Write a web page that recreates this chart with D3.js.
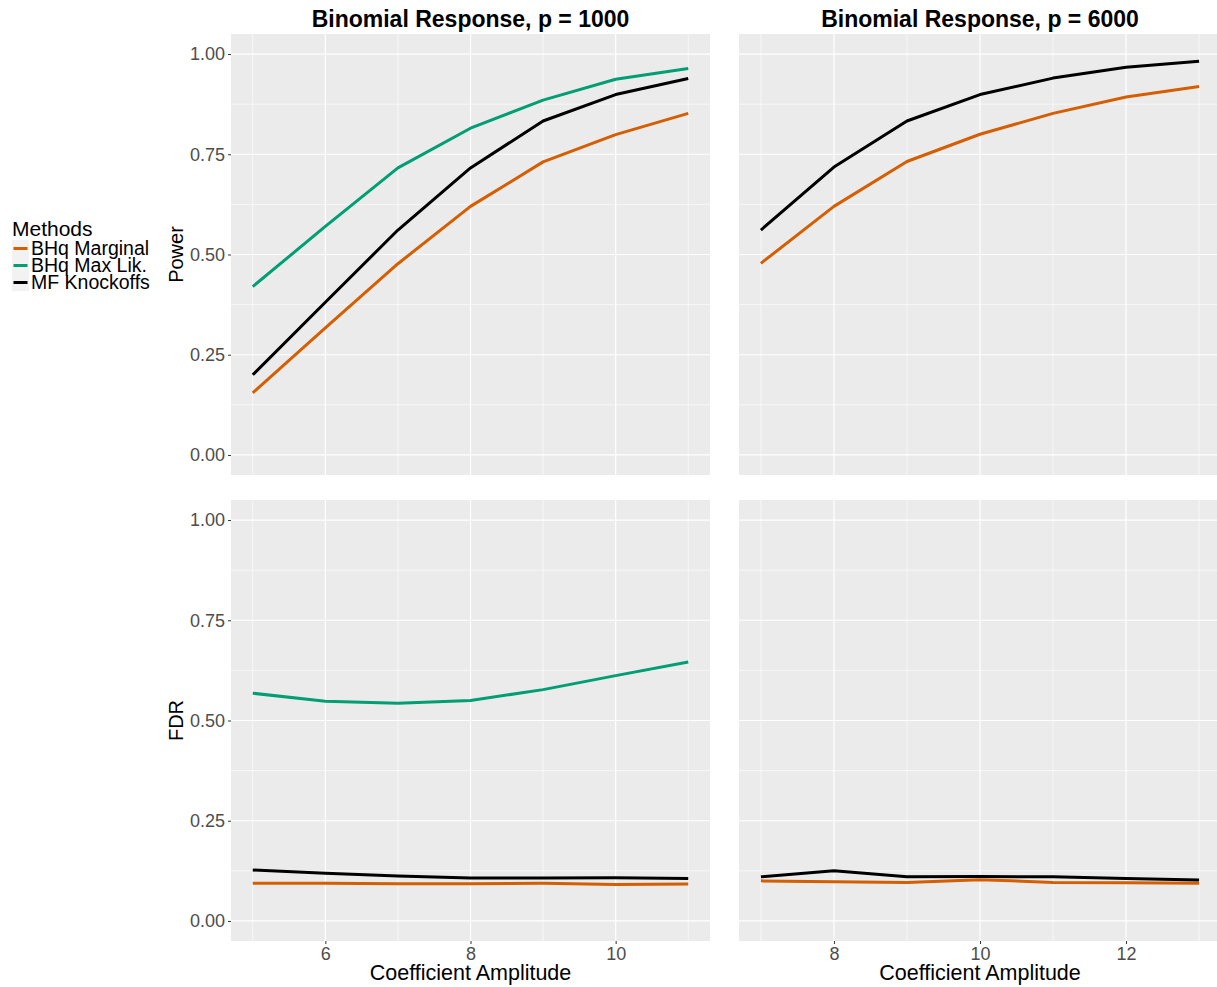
<!DOCTYPE html>
<html>
<head>
<meta charset="utf-8">
<script src="https://cdn.jsdelivr.net/npm/d3@7"></script>
<style>
  body { margin: 0; background: #fff; }
  svg { font-family: "Liberation Sans", Arial, sans-serif; }
</style>
</head>
<body>
<svg id="chart" width="1217" height="987"></svg>
<script>
// data
const methods = ["BHq Marginal", "BHq Max Lik.", "MF Knockoffs"];
const colors = ["#D55E00", "#009E73", "#000000"];
const titles = ["Binomial Response, p = 1000", "Binomial Response, p = 6000"];
const rowLabels = ["Power", "FDR"];

const ampSmall = [5, 6, 7, 8, 9, 10, 11];
const ampLarge = [7, 8, 9, 10, 11, 12, 13];

// p = 1000
const powerMarg1000 = [0.155, 0.317, 0.477, 0.620, 0.731, 0.799, 0.852];
const powerML1000   = [0.420, 0.570, 0.716, 0.815, 0.885, 0.937, 0.964];
const powerKO1000   = [0.200, 0.381, 0.561, 0.716, 0.833, 0.899, 0.939];
const fdrMarg1000 = [0.094, 0.094, 0.093, 0.093, 0.094, 0.091, 0.092];
const fdrML1000   = [0.568, 0.548, 0.543, 0.550, 0.577, 0.612, 0.646];
const fdrKO1000   = [0.127, 0.119, 0.112, 0.107, 0.107, 0.108, 0.106];

// p = 6000 (no Max Lik. run)
const powerMarg6000 = [0.478, 0.620, 0.732, 0.800, 0.852, 0.893, 0.919];
const powerKO6000   = [0.561, 0.718, 0.833, 0.899, 0.940, 0.967, 0.982];
const fdrMarg6000 = [0.100, 0.098, 0.096, 0.103, 0.096, 0.095, 0.094];
const fdrKO6000   = [0.110, 0.125, 0.110, 0.111, 0.110, 0.106, 0.102];

const xTicksSmall = [6, 8, 10];
const xTicksLarge = [8, 10, 12];
const yTicks = [0, 0.25, 0.5, 0.75, 1];

const panels = [
  {row: 0, col: 0, amp: ampSmall, ticks: xTicksSmall, series: [powerMarg1000, powerML1000, powerKO1000]},
  {row: 0, col: 1, amp: ampLarge, ticks: xTicksLarge, series: [powerMarg6000, null, powerKO6000]},
  {row: 1, col: 0, amp: ampSmall, ticks: xTicksSmall, series: [fdrMarg1000, fdrML1000, fdrKO1000]},
  {row: 1, col: 1, amp: ampLarge, ticks: xTicksLarge, series: [fdrMarg6000, null, fdrKO6000]}
];

const colX = [[231, 710], [739, 1221]];
const rowY = [[34, 475], [500, 941]];

const svg = d3.select("#chart");

panels.forEach(p => {
  const [x0, x1] = colX[p.col];
  const [y0, y1] = rowY[p.row];
  const lo = d3.min(p.amp), hi = d3.max(p.amp), pad = (hi - lo) * 0.05;
  const x = d3.scaleLinear().domain([lo - pad, hi + pad]).range([x0, x1]);
  const y = d3.scaleLinear().domain([-0.05, 1.05]).range([y1, y0]);

  const g = svg.append("g");
  g.append("rect")
    .attr("x", x0).attr("y", y0)
    .attr("width", x1 - x0).attr("height", y1 - y0)
    .attr("fill", "#EBEBEB");

  // minor grid
  const xMinor = p.ticks.map(t => t - 1).concat([p.ticks[p.ticks.length - 1] + 1]);
  const yMinor = [0.125, 0.375, 0.625, 0.875];
  g.selectAll(".xminor").data(xMinor).enter().append("line")
    .attr("x1", d => x(d)).attr("x2", d => x(d))
    .attr("y1", y0).attr("y2", y1)
    .attr("stroke", "#fff").attr("stroke-width", 0.6);
  g.selectAll(".yminor").data(yMinor).enter().append("line")
    .attr("x1", x0).attr("x2", x1)
    .attr("y1", d => y(d)).attr("y2", d => y(d))
    .attr("stroke", "#fff").attr("stroke-width", 0.6);
  // major grid
  g.selectAll(".xmajor").data(p.ticks).enter().append("line")
    .attr("x1", d => x(d)).attr("x2", d => x(d))
    .attr("y1", y0).attr("y2", y1)
    .attr("stroke", "#fff").attr("stroke-width", 1.2);
  g.selectAll(".ymajor").data(yTicks).enter().append("line")
    .attr("x1", x0).attr("x2", x1)
    .attr("y1", d => y(d)).attr("y2", d => y(d))
    .attr("stroke", "#fff").attr("stroke-width", 1.2);

  const line = d3.line()
    .x((d, i) => x(p.amp[i]))
    .y(d => y(d));

  p.series.forEach((s, k) => {
    if (!s) return;
    g.append("path")
      .datum(s)
      .attr("d", line)
      .attr("fill", "none")
      .attr("stroke", colors[k])
      .attr("stroke-width", 3)
      .attr("stroke-linejoin", "round");
  });

  // y axis on the left column
  if (p.col === 0) {
    const ay = svg.append("g")
      .attr("transform", "translate(" + x0 + ",0)")
      .call(d3.axisLeft(y).tickValues(yTicks).tickFormat(d3.format(".2f")).tickSize(3).tickPadding(3));
    ay.select(".domain").remove();
    ay.selectAll("line").attr("stroke", "#333");
    ay.selectAll("text").attr("fill", "#4D4D4D").style("font-size", "18px");

    svg.append("text")
      .attr("transform", "translate(183," + ((y0 + y1) / 2) + ") rotate(-90)")
      .attr("text-anchor", "middle")
      .style("font-size", "20px")
      .text(rowLabels[p.row]);
  }

  // x axis on the bottom row
  if (p.row === 1) {
    const ax = svg.append("g")
      .attr("transform", "translate(0," + y1 + ")")
      .call(d3.axisBottom(x).tickValues(p.ticks).tickFormat(d3.format("d")).tickSize(3).tickPadding(3));
    ax.select(".domain").remove();
    ax.selectAll("line").attr("stroke", "#333");
    ax.selectAll("text").attr("fill", "#4D4D4D").style("font-size", "18px");

    svg.append("text")
      .attr("x", p.col === 0 ? (x0 + x1) / 2 : 980)
      .attr("y", 980)
      .attr("text-anchor", "middle")
      .style("font-size", "21.5px")
      .text("Coefficient Amplitude");
  }

  // strip title on the top row
  if (p.row === 0) {
    svg.append("text")
      .attr("x", p.col === 0 ? (x0 + x1) / 2 : 980)
      .attr("y", 27)
      .attr("text-anchor", "middle")
      .style("font-size", "23px")
      .style("font-weight", "bold")
      .text(titles[p.col]);
  }
});

// legend
const legend = svg.append("g").attr("transform", "translate(12,0)");
legend.append("text")
  .attr("x", 0).attr("y", 236)
  .style("font-size", "21px")
  .text("Methods");

const items = legend.selectAll(".item")
  .data(methods)
  .enter().append("g")
  .attr("transform", (d, i) => "translate(0," + (240 + i * 17) + ")");
items.append("rect")
  .attr("width", 17).attr("height", 17)
  .attr("fill", "#F2F2F2");
items.append("line")
  .attr("x1", 1.5).attr("x2", 15.5)
  .attr("y1", 8.5).attr("y2", 8.5)
  .attr("stroke", (d, i) => colors[i])
  .attr("stroke-width", 3);
items.append("text")
  .attr("x", 19).attr("y", 15)
  .style("font-size", "19.5px")
  .text(d => d);
</script>
</body>
</html>
